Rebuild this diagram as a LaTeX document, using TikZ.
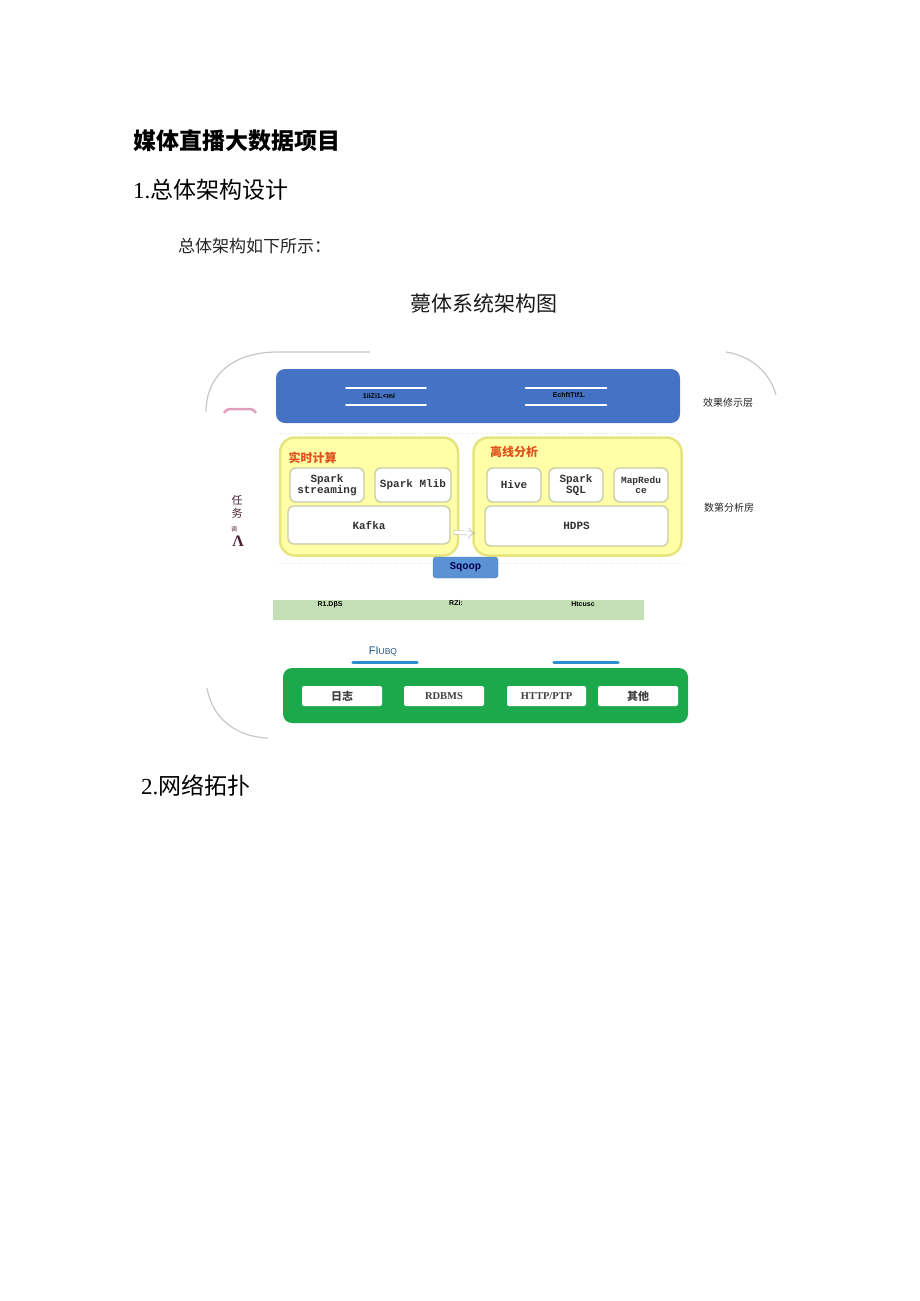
\documentclass[tikz,border=0pt]{standalone}
\usepackage{fontspec}
\setmainfont{Liberation Sans}
\newfontfamily\cjk{Noto Sans CJK SC}
\newfontfamily\mono{Liberation Mono}
\newfontfamily\serif{Liberation Serif}
\usepackage{xcolor}
\usepackage{tikz}
\usetikzlibrary{arrows.meta, positioning, calc}
\newcommand{\fsz}[1]{\fontsize{#1}{#1}\selectfont}
\definecolor{topblue}{HTML}{4472C4}
\definecolor{yelfill}{HTML}{FFFFA8}
\definecolor{yelline}{HTML}{E6E47C}
\definecolor{compline}{HTML}{C9CCA2}
\definecolor{areared}{HTML}{E2501E}
\definecolor{sqblue}{HTML}{5B92D6}
\definecolor{busgreen}{HTML}{C5DFB5}
\definecolor{srcgreen}{HTML}{1BA94C}
\definecolor{flblue}{HTML}{2E8FD0}
\definecolor{maroon}{HTML}{4A2236}

\begin{document}
\begin{tikzpicture}[
   x=1pt, y=-1pt,
   bar/.style={rounded corners=9pt, inner sep=0pt},
   area/.style={rounded corners=15pt, draw=yelline, line width=2.5pt,
                fill=yelfill, inner sep=0pt},
   comp/.style={rounded corners=6pt, draw=compline, line width=1.3pt, fill=white,
                inner sep=0pt, align=center, text=black!80,
                font=\mono\bfseries\fsz{11}},
   src/.style={rounded corners=2pt, fill=white, inner sep=0pt, text=black!75,
               minimum height=20pt},
   tag/.style={font=\bfseries\fsz{7}, inner sep=0pt},
   side/.style={font=\cjk\fsz{10}, text=black!85, inner sep=0pt},
   wline/.style={white, line width=2.5pt, line cap=round},
   frame/.style={black!22, line width=1.2pt},
]
\useasboundingbox (0,0) rectangle (920,1301);

% ---- page text ----
\node[anchor=west, inner sep=0pt, font=\cjk\bfseries\fsz{23}] (title) at (133,141) {媒体直播大数据项目};
\node[anchor=west, inner sep=0pt, font=\cjk\fsz{23}] (sec1) at (133,190) {{\serif 1.}总体架构设计};
\node[anchor=west, inner sep=0pt, font=\cjk\fsz{17}, text=black!85] (intro) at (178,246) {总体架构如下所示：};
\node[inner sep=0pt, font=\cjk\fsz{21}, text=black!90] (chart) at (484,303) {薨体系统架构图};
\node[anchor=west, inner sep=0pt, font=\cjk\fsz{23}] (sec2) at (141,786) {{\serif 2.}网络拓扑};

% ---- faint frame corners ----
\draw[frame] (206,412) .. controls (206,376) and (232,352) .. (278,352) -- (370,352);
\draw[frame] (726,352) .. controls (752,356) and (770,373) .. (776,395);
\draw[frame] (207,688) .. controls (212,718) and (236,737) .. (268,738);
\draw[pink!70!violet!80, line width=2.5pt, rounded corners=3pt]
   (224,413) -- (227,409) -- (253,409) -- (256,413);

% ---- display layer ----
\node[bar, fill=topblue, minimum width=404pt, minimum height=54pt] (show) at (478,396) {};
\node[tag, minimum width=79pt, minimum height=17pt] (vis1) at (386,396.5) {};
\node[tag] (vis1t) at (379,396) {1iiZi1.<mi};
\node[tag, minimum width=80pt, minimum height=17pt] (vis2) at (566,396.5) {};
\node[tag] (vis2t) at (569,395) {EchftTtf1.};
\draw[wline] (vis1.north west) -- (vis1.north east);
\draw[wline] (vis1.south west) -- (vis1.south east);
\draw[wline] (vis2.north west) -- (vis2.north east);
\draw[wline] (vis2.south west) -- (vis2.south east);
\node[side] (showlbl) at (728,403) {效果修示层};

\draw[black!12, dotted, line width=1pt] (277,433) -- (685,433);
\draw[black!12, dotted, line width=1pt] (277,563) -- (685,563);

% ---- analysis layer ----
\node[area, minimum width=178pt, minimum height=118pt] (rt) at (369,496.5) {};
\node[font=\cjk\bfseries\fsz{12}, text=areared, inner sep=0pt] (rttitle) at (312.5,458) {实时计算};
\node[comp, minimum width=74pt, minimum height=34pt] (stream) at (327,485) {Spark\\streaming};
\node[comp, minimum width=76pt, minimum height=34pt] (mlib) at (413,485) {Spark Mlib};
\node[comp, minimum width=162pt, minimum height=38pt] (kafka) at (369,525) {Kafka};

\node[area, minimum width=208pt, minimum height=118pt] (off) at (577.5,496.5) {};
\node[font=\cjk\bfseries\fsz{12}, text=areared, inner sep=0pt] (offtitle) at (514,451.5) {离线分析};
\node[comp, minimum width=54pt, minimum height=34pt] (hive) at (514,485) {Hive};
\node[comp, minimum width=54pt, minimum height=34pt] (sql) at (576,485) {Spark\\SQL};
\node[comp, minimum width=54pt, minimum height=34pt, font=\mono\bfseries\fsz{9.5}] (mr) at (641,485) {MapRedu\\ce};
\node[comp, minimum width=183pt, minimum height=40pt] (hdfs) at (576.5,526) {HDPS};

\draw[black!35, double=white, double distance=3.5pt, -Implies, shorten <=3pt, shorten >=9pt]
   ([yshift=-7.5pt]kafka.east) -- ([yshift=-7.5pt]hdfs.west);
\node[side] (anlbl) at (729,508) {数第分析房};

\node[rounded corners=3pt, fill=sqblue, draw=sqblue!85!black, minimum width=65pt,
      minimum height=21pt, inner sep=0pt, font=\mono\bfseries\fsz{10.5}, text=blue!30!black] (sqoop) at (465.5,567.5) {Sqoop};

% ---- scheduling ----
\node[font=\cjk\fsz{11}, text=maroon, inner sep=0pt] (ren) at (237,500) {任};
\node[font=\cjk\fsz{11}, text=maroon, inner sep=0pt, below=3pt of ren] (wu) {务};
\node[font=\cjk\fsz{6}, text=maroon, inner sep=0pt] (diao) at (234,529) {调};
\node[font=\serif\bfseries\fsz{16}, text=maroon, inner sep=0pt] (lam) at (238,541) {Λ};

% ---- storage bus ----
\node[fill=busgreen, minimum width=371pt, minimum height=20pt, inner sep=0pt] (bus) at (458.5,609.5) {};
\node[tag] (bus1) at (330,605) {R1.DβS};
\node[tag] (bus2) at (456,603) {RZi:};
\node[tag] (bus3) at (583,604) {Htcusc};

% ---- collection ----
\node[font=\fsz{11}, text=flblue!60!black, inner sep=0pt] (flume) at (383,652) {FI{\fsz{8.5}UBQ}};
\node[minimum width=64pt, inner sep=0pt] (fl1) at (385,662.5) {};
\node[minimum width=64pt, inner sep=0pt] (fl2) at (586,662.5) {};
\draw[flblue, line width=3pt, line cap=round] (fl1.west) -- (fl1.east);
\draw[flblue, line width=3pt, line cap=round] (fl2.west) -- (fl2.east);

% ---- data sources ----
\node[bar, fill=srcgreen, minimum width=405pt, minimum height=55pt] (source) at (485.5,695.5) {};
\node[src, minimum width=80pt, font=\cjk\bfseries\fsz{11}] (log) at (342,696) {日志};
\node[src, minimum width=80pt, font=\serif\bfseries\fsz{10.5}] (rdbms) at (444,696) {RDBMS};
\node[src, minimum width=79pt, font=\serif\bfseries\fsz{10.5}] (http) at (546.5,696) {HTTP/PTP};
\node[src, minimum width=80pt, font=\cjk\bfseries\fsz{11}] (other) at (638,696) {其他};
\end{tikzpicture}
\end{document}
